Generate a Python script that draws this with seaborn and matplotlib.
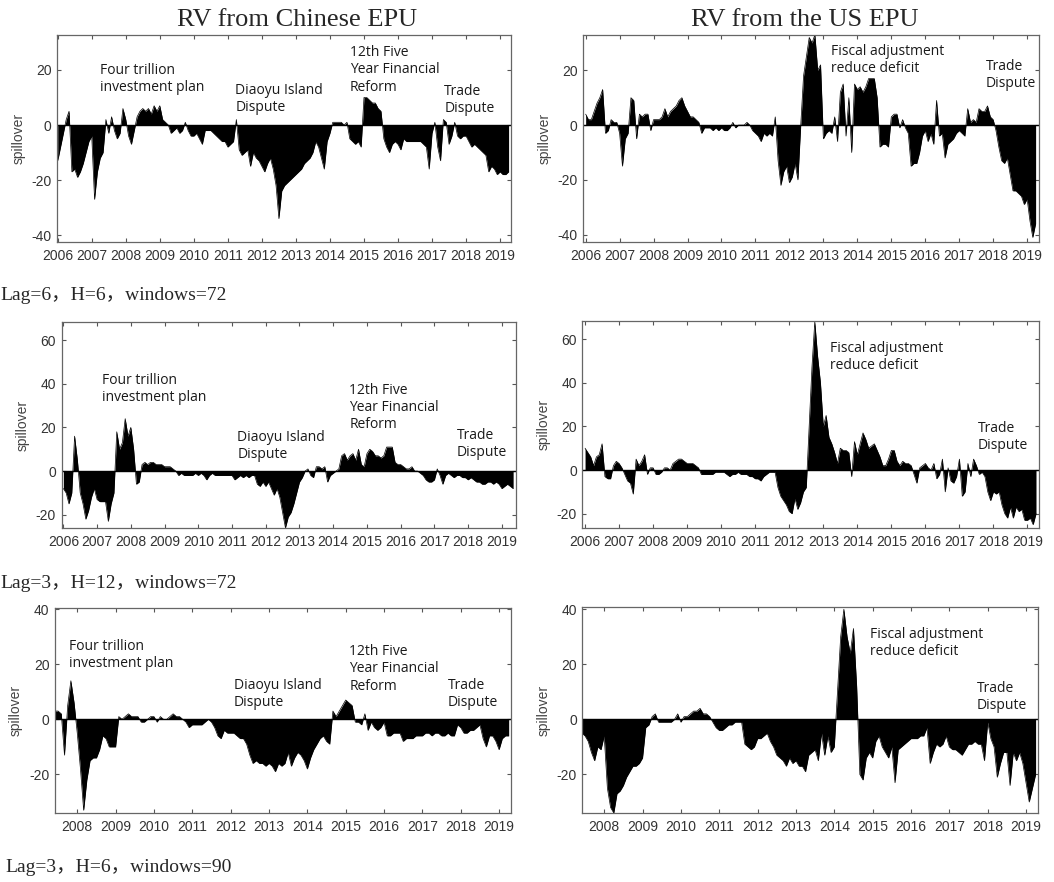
import numpy as np
import matplotlib
matplotlib.use('Agg')
import matplotlib.pyplot as plt
import seaborn as sns

# ---------------- data: monthly spillover values ----------------
# windows=72 series run Jan 2006 .. Apr/May 2019, windows=90 series run Jun 2007 .. Apr 2019
cn_lag6_h6 = [
    -13, -8, -3, 2, 5, -17, -16, -19, -17, -14, -10, -6,       # 2006
    -4, -27, -17, -12, -10, 2, -3, 3, -2, -5, -3, 6,           # 2007
    2, -4, -7, -2, 3, 5, 6, 5, 6, 4, 7, 5,                     # 2008
    7, 2, 1, 0, -3, -2, -1, -3, -2, 1, -2, -4,                 # 2009
    -4, -3, -5, -7, -2, -2, -2, -3, -4, -5, -6, -6,            # 2010
    -8, -7, -6, 2, -9, -11, -10, -9, -15, -10, -12, -13,       # 2011
    -15, -17, -14, -12, -16, -22, -34, -24, -22, -21, -20, -19,  # 2012
    -18, -17, -16, -14, -13, -12, -10, -6, -8, -12, -16, -6,   # 2013
    -3, 1, 1, 1, 1, 0, 1, -5, -6, -7, -6, -8,                  # 2014
    10, 10, 9, 8, 8, 6, 5, -5, -8, -10, -7, -6,                # 2015
    -7, -9, -5, -6, -6, -6, -6, -6, -6, -7, -8, -16,           # 2016
    -3, 1, -8, -13, 2, 1, -7, -4, 1, -4, -5, -4,               # 2017
    -4, -6, -8, -7, -8, -9, -10, -11, -17, -15, -16, -18,      # 2018
    -17, -18, -18, -17,                                        # 2019
]
us_lag6_h6 = [
    4, 2, 2, 5, 8, 10, 13, -3, -2, 2, 1, 1,
    -3, -15, -5, -3, 10, 9, -5, 4, 3, 4, 4, -2,
    2, 2, 2, 3, 6, 3, 5, 6, 7, 9, 10, 7,
    5, 3, 3, 2, 1, -3, -1, -1, -1, -2, -1, -2,
    -1, -2, -2, -1, 1, -1, 0, 0, 0, 1, 0, -2,
    -3, -4, -6, -3, -4, -3, -4, 3, -13, -22, -17, -15,
    -21, -19, -14, -20, 0, 18, 25, 32, 30, 33, 20, 22,
    -5, -3, -2, -3, 3, -6, 12, 15, -4, 10, -10, 15,
    13, 14, 12, 14, 17, 17, 17, 10, -8, -7, -7, -8,
    3, 4, 4, -1, 2, -1, -3, -15, -14, -14, -10, -4,
    -2, -6, -3, -7, 9, -4, -3, -12, -7, -6, -5, -3,
    -2, -3, -4, 6, 1, 2, 1, 6, 5, 5, 7, 3,
    2, -2, -8, -13, -14, -12, -18, -24, -24, -25, -26, -29,
    -27, -35, -41, -36,
]
cn_lag3_h12 = [
    -8, -10, -15, -10, 16, 5, -10, -15, -22, -18, -12, -8,
    -13, -14, -14, -14, -23, -15, -10, 18, 10, 13, 24, 16,
    20, 10, -6, -5, 3, 4, 3, 4, 4, 3, 3, 3,
    2, 2, 2, 1, 0, -2, -1, -2, -2, -2, -2, -1,
    -2, -1, -2, -4, -2, -1, -2, -2, -2, -2, -2, -2,
    -2, -4, -3, -2, -3, -2, -3, -2, -2, -6, -7, -5,
    -7, -5, -8, -11, -8, -12, -19, -26, -21, -19, -15, -10,
    -5, -3, 0, 1, -2, -3, 2, 2, 1, 2, -5, -2,
    -1, 0, 1, 7, 8, 5, 7, 8, 5, 10, 3, 2,
    8, 10, 9, 7, 7, 6, 7, 11, 11, 11, 4, 3,
    3, 2, 1, 1, 2, 0, 0, -1, -2, -4, -5, -5,
    -4, 1, -2, -6, -2, -1, -2, -3, -2, -2, -3, -3,
    -4, -3, -4, -5, -5, -6, -6, -5, -5, -6, -5, -6,
    -8, -7, -6, -7, -8,
]
us_lag3_h12 = [
    10, 8, 6, 2, 6, 7, 12, -3, -4, -4, 2, 4,
    3, 1, -2, -5, -6, -11, 5, 2, 4, 7, -2, 1,
    1, -2, -2, -1, 1, 1, 0, 3, 4, 5, 5, 4,
    3, 3, 3, 2, 1, -2, -2, -2, -2, -2, -1, -1,
    -1, -1, -2, -3, -2, -2, -1, -2, -2, -2, -3, -3,
    -4, -4, -5, -3, -2, -1, -1, -1, -8, -12, -14, -16,
    -19, -20, -13, -18, -15, -10, -8, 20, 47, 68, 52, 40,
    20, 25, 15, 12, 8, 3, 10, 9, 9, 8, -3, 13,
    7, 12, 17, 14, 10, 11, 12, 9, 6, 2, 2, 5,
    9, 9, 4, 2, 4, 3, 3, 2, -2, -6, 1, 2,
    3, 1, 0, 3, -4, -2, 5, -10, 1, -5, -6, -3,
    5, -12, -10, 3, -3, 5, 2, -2, -1, -3, -10, -14,
    -10, -11, -10, -16, -20, -22, -17, -22, -17, -19, -18, -23,
    -23, -22, -25, -20,
]
cn_lag3_h6_w90 = [
    3, 3, 2, -13, 5, 14, 6,                                    # 2007 Jun-Dec
    -5, -18, -33, -22, -15, -14, -14, -11, -6, -7, -10, -10,   # 2008
    -10, 1, 0, 1, 2, 1, 1, 1, -1, -1, 0, 1,
    1, -1, 1, 0, 0, 1, 2, 1, 1, 0, -1, -3,
    -2, -2, -2, -2, -1, 0, -1, -3, -6, -7, -4, -5,
    -5, -5, -6, -7, -7, -9, -13, -16, -15, -16, -16, -17,
    -16, -17, -19, -16, -17, -16, -12, -17, -14, -12, -13, -15,
    -18, -14, -11, -9, -7, -6, -8, -9, 3, 1, 3, 5,
    7, 6, 5, -1, -1, -2, 2, -4, -1, -3, -4, -3,
    -1, -6, -6, -5, -5, -5, -8, -7, -7, -7, -6, -6,
    -6, -5, -5, -6, -5, -5, -6, -6, -5, -6, -6, -2,
    -3, -5, -5, -4, -4, -3, -2, -7, -10, -6, -6, -8,
    -11, -7, -6, -6,
]
us_lag3_h6_w90 = [
    -5, -6, -8, -12, -15, -10, -11,
    -6, -25, -32, -34, -27, -26, -24, -21, -19, -17, -17, -16,
    -14, -3, -2, 1, 2, -1, -1, -1, -1, -1, 0, 2,
    -1, 1, 1, 2, 3, 3, 4, 2, 2, 1, -1, -3,
    -4, -4, -3, -2, -2, -1, -1, -1, -9, -10, -11, -10,
    -7, -7, -6, -5, -8, -10, -13, -14, -15, -17, -14, -16,
    -15, -17, -17, -19, -13, -12, -11, -15, -5, -13, -6, -12,
    -10, 10, 30, 40, 30, 24, 33, 12, -20, -22, -14, -12,
    -14, -8, -6, -10, -12, -14, -10, -23, -11, -10, -9, -8,
    -7, -7, -7, -6, -6, -3, -16, -12, -9, -10, -9, -6,
    -10, -11, -11, -12, -13, -11, -9, -9, -8, -9, -9, -15,
    -1, -7, -10, -21, -16, -12, -12, -24, -12, -15, -12, -16,
    -23, -30, -25, -20,
]

titles = ['RV from Chinese EPU', 'RV from the US EPU']
setting_labels = ['Lag=6，H=6，windows=72', 'Lag=3，H=12，windows=72',
                  'Lag=3，H=6，windows=90']
cn_notes = ['Four trillion\ninvestment plan', 'Diaoyu Island\nDispute',
            '12th Five\nYear Financial\nReform', 'Trade\nDispute']
us_notes = ['Fiscal adjustment\nreduce deficit', 'Trade\nDispute']

# ---------------- layout ----------------
W, H = 1054, 882
sns.set_style('ticks')
plt.rcParams['axes.unicode_minus'] = False
plt.rcParams['font.family'] = ['Liberation Sans', 'DejaVu Sans']

fig = plt.figure(figsize=(W / 100, H / 100), dpi=100)

panels = [
    # values, start year, axes rect, xlim, ylim, yticks, first year tick, notes with positions
    (cn_lag6_h6, 2006.0, [0.0541, 0.7256, 0.4307, 0.2347], (2005.98, 2019.32), (-42.5, 32.7),
     [-40, -20, 0, 20], 2006, list(zip(cn_notes, [(2007.25, 16.8), (2011.22, 9.5), (2014.59, 20.0), (2017.36, 9.0)]))),
    (us_lag6_h6, 2006.0, [0.5534, 0.7256, 0.4327, 0.2347], (2005.93, 2019.36), (-42.7, 32.9),
     [-40, -20, 0, 20], 2006, list(zip(us_notes, [(2013.22, 23.8), (2017.78, 18.3)]))),
    (cn_lag3_h12, 2006.0, [0.0585, 0.4010, 0.4308, 0.2343], (2005.95, 2019.41), (-26.2, 68.4),
     [-20, 0, 20, 40, 60], 2006, list(zip(cn_notes, [(2007.16, 37.6), (2011.16, 11.3), (2014.48, 29.2), (2017.66, 12.4)]))),
    (us_lag3_h12, 2006.0, [0.5525, 0.4010, 0.4330, 0.2354], (2005.92, 2019.33), (-26.7, 68.4),
     [-20, 0, 20, 40, 60], 2006, list(zip(us_notes, [(2013.19, 51.9), (2017.54, 15.0)]))),
    (cn_lag3_h6_w90, 2007 + 5 / 12, [0.0522, 0.0779, 0.4326, 0.2331], (2007.42, 2019.31), (-34.1, 40.5),
     [-20, 0, 20, 40], 2008, list(zip(cn_notes, [(2007.78, 23.2), (2012.08, 9.2), (2015.09, 18.3), (2017.66, 9.2)]))),
    (us_lag3_h6_w90, 2007 + 5 / 12, [0.5525, 0.0779, 0.4326, 0.2342], (2007.43, 2019.32), (-34.1, 40.9),
     [-20, 0, 20, 40], 2008, list(zip(us_notes, [(2014.93, 27.6), (2017.71, 8.0)]))),
]

for values, start, rect, xlim, ylim, yticks, first_year, notes in panels:
    ax = fig.add_axes(rect)
    t = start + np.arange(len(values)) / 12
    ax.fill_between(t, values, 0, color='black', lw=0)
    sns.lineplot(x=t, y=values, color='black', lw=0.5, ax=ax)
    ax.axhline(0, color='black', lw=1)
    ax.set_xlim(*xlim)
    ax.set_ylim(*ylim)
    ax.set_xticks(range(first_year, 2020))
    ax.set_yticks(yticks)
    ax.tick_params(direction='in', top=True, right=True, length=3, width=0.8,
                   color='#555555', labelcolor='#333333', labelsize=10)
    ax.tick_params(axis='x', pad=5)
    ax.tick_params(axis='y', pad=4)
    for s in ax.spines.values():
        s.set_color('#666666')
        s.set_linewidth(0.9)
    ax.set_ylabel('spillover', fontsize=10, color='#444444')
    ax.yaxis.set_label_coords(-0.07, 0.5)
    for txt, (x, y) in notes:
        ax.text(x, y, txt, family='Open Sans', fontsize=10, color='#1a1a1a',
                ha='left', va='center', linespacing=1.2)

fig.text(297 / W, 1 - 20 / H, titles[0], family='Liberation Serif', fontsize=19,
         ha='center', va='center')
fig.text(805 / W, 1 - 20 / H, titles[1], family='Liberation Serif', fontsize=19,
         ha='center', va='center')

for (x, y), lab in zip([(0, 295), (0, 583), (5, 868)], setting_labels):
    fig.text(x / W, 1 - y / H, lab, family=['Liberation Serif', 'Noto Sans CJK SC'],
             fontsize=14, ha='left', va='center')

fig.savefig('out.png', dpi=100)
